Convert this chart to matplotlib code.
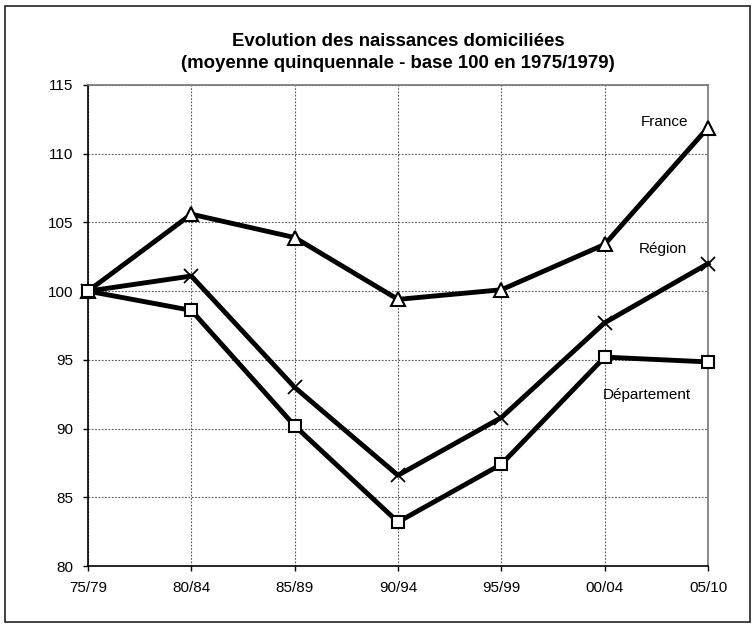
import matplotlib
matplotlib.use("Agg")
import matplotlib.pyplot as plt
from matplotlib.patches import Rectangle

periods = ["75/79", "80/84", "85/89", "90/94", "95/99", "00/04", "05/10"]
france = [100, 105.6, 103.9, 99.4, 100.1, 103.4, 111.9]
region = [100, 101.1, 93.0, 86.6, 90.8, 97.7, 102.0]
departement = [100, 98.6, 90.2, 83.2, 87.4, 95.2, 94.85]
yticks = [80, 85, 90, 95, 100, 105, 110, 115]

plt.rcParams['font.family'] = ['Liberation Sans', 'DejaVu Sans']

W, H = 755, 630
fig = plt.figure(figsize=(W/100, H/100), dpi=100)
ax = fig.add_axes([88/W, 1-566/H, (708-88)/W, (566-85)/H])

x = list(range(len(periods)))
lw = 3.5
ax.plot(x, france, color='black', lw=lw, marker='^', ms=10, mfc='white', mec='black', mew=1.5, zorder=3, clip_on=False)
ax.plot(x, region, color='black', lw=lw, marker='x', ms=10, mec='black', mew=1.3, zorder=3, clip_on=False)
ax.plot(x, departement, color='black', lw=lw, marker='s', ms=9, mfc='white', mec='black', mew=1.5, zorder=4, clip_on=False)

ax.set_xlim(0, 6)
ax.set_ylim(80, 115)
ax.set_yticks(yticks)
ax.set_xticks(x)
ax.set_xticklabels(periods)
ax.tick_params(axis='both', labelsize=11, direction='out', length=3.6, width=1, pad=7)
ax.grid(True, color='#555555', linestyle=(0, (1.5, 1.5)), lw=0.8)
ax.set_axisbelow(True)
for s in ['left', 'bottom']:
    ax.spines[s].set_color('black')
    ax.spines[s].set_linewidth(1.2)
for s in ['top', 'right']:
    ax.spines[s].set_color('#777777')
    ax.spines[s].set_linewidth(1.2)

ax.text(5.58, 112.3, "France", fontsize=11, ha='center', va='center')
ax.text(5.56, 103.05, "Région", fontsize=11, ha='center', va='center')
ax.text(5.41, 92.45, "Département", fontsize=11, ha='center', va='center')

fig.text(398/W, 1-41/H, "Evolution des naissances domiciliées", fontsize=13.4,
         fontweight='bold', ha='center', va='center')
fig.text(398/W, 1-64/H, "(moyenne quinquennale - base 100 en 1975/1979)", fontsize=13.4,
         fontweight='bold', ha='center', va='center')

fig.patches.append(Rectangle((5/W, 1-622/H), 745/W, 616/H, transform=fig.transFigure,
                             fill=False, edgecolor='#222222', lw=1.2))

fig.savefig("out.png", dpi=100)
